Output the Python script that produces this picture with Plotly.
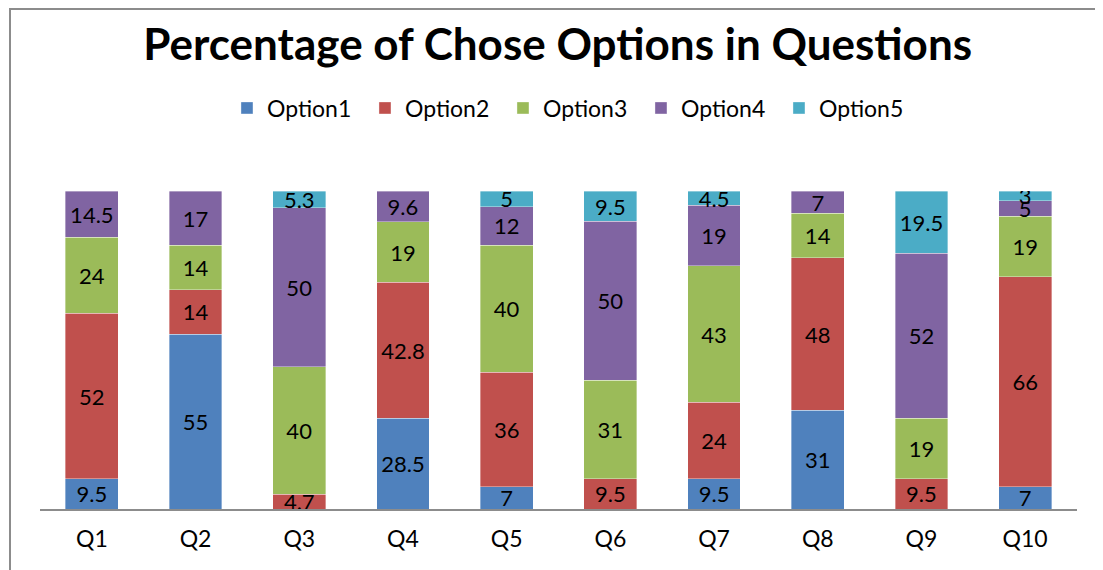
import plotly.graph_objects as go

questions = ["Q1", "Q2", "Q3", "Q4", "Q5", "Q6", "Q7", "Q8", "Q9", "Q10"]
option1 = [9.5, 55, None, 28.5, 7, None, 9.5, 31, None, 7]
option2 = [52, 14, 4.7, 42.8, 36, 9.5, 24, 48, 9.5, 66]
option3 = [24, 14, 40, 19, 40, 31, 43, 14, 19, 19]
option4 = [14.5, 17, 50, 9.6, 12, 50, 19, 7, 52, 5]
option5 = [None, None, 5.3, None, 5, 9.5, 4.5, None, 19.5, 3]

series_names = ["Option1", "Option2", "Option3", "Option4", "Option5"]
series_values = [option1, option2, option3, option4, option5]
colors = ["#4F81BD", "#C0504D", "#9BBB59", "#8064A2", "#4BACC6"]

FONT = "Lato"
# page body has an 8px default margin; figure is sized to fill the rest
W, H = 1095, 562
ML, MR, MT, MB = 32, 26, 183, 61
plot_h = H - MT - MB

fig = go.Figure()
for name, vals, col in zip(series_names, series_values, colors):
    fig.add_trace(go.Bar(
        x=questions, y=vals, name=name,
        marker=dict(color=col, line=dict(width=0.6, color="rgba(255,255,255,0.6)")),
        text=[("" if v is None else f"{v:g}") for v in vals],
        textposition="inside", insidetextanchor="middle", textangle=0,
        textfont=dict(family=FONT, size=22, color="black"),
        hoverinfo="skip",
    ))

fig.update_layout(
    barmode="stack",
    bargap=0.49,
    width=W, height=H,
    margin=dict(l=ML, r=MR, t=MT, b=MB),
    paper_bgcolor="white", plot_bgcolor="white",
    uniformtext=dict(minsize=22, mode="show"),
    title=dict(text="<b>Percentage of Chose Options in Questions</b>",
               x=0.502, xanchor="center", y=1 - 37 / H, yanchor="middle",
               font=dict(family=FONT, size=44, color="black")),
    legend=dict(orientation="h", x=0.513, xanchor="center",
                y=(H - MB - 100) / plot_h, yanchor="middle",
                font=dict(family=FONT, size=23, color="black"),
                itemwidth=30, entrywidth=93, entrywidthmode="pixels",
                traceorder="normal"),
    showlegend=True,
    xaxis=dict(showline=True, linecolor="#8c8c8c", linewidth=2, ticks="",
               tickfont=dict(family=FONT, size=23, color="black"),
               range=[-0.5, 9.5], fixedrange=True, ticklabelstandoff=8),
    yaxis=dict(range=[0, 100], visible=False, showgrid=False, fixedrange=True),
    shapes=[dict(type="rect", xref="paper", yref="paper",
                 x0=(2 - ML) / (W - ML - MR), x1=1.2,
                 y0=-0.5, y1=(H - MB - 1) / plot_h,
                 line=dict(color="#8c8c8c", width=2), layer="below")],
)

fig.write_html("out.html")
